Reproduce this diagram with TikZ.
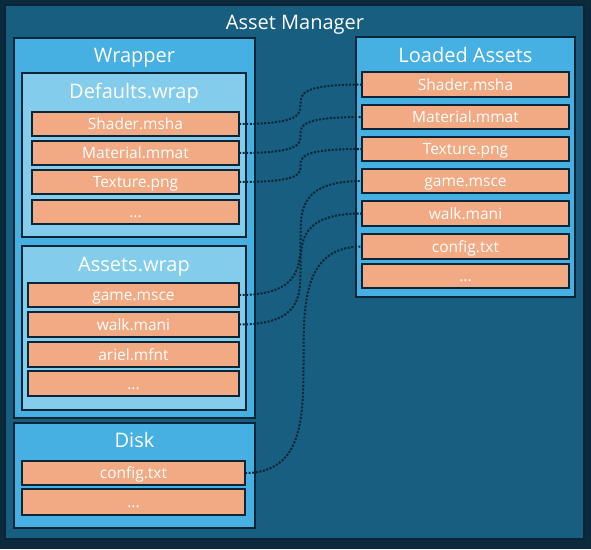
\documentclass[tikz,border=0pt]{standalone}
\usepackage{fontspec}
\setmainfont{Open Sans}
\definecolor{bgdark}{HTML}{0B2A3E}
\definecolor{amfill}{HTML}{185E80}
\definecolor{edge}{HTML}{0A2535}
\definecolor{midblue}{HTML}{45B0E1}
\definecolor{lightblue}{HTML}{84CCEB}
\definecolor{peach}{HTML}{F1AA84}
\tikzset{
  boxbase/.style={draw=edge, line width=2pt, inner sep=0pt, outer sep=0pt, anchor=north west},
  amstyle/.style={boxbase, fill=amfill},
  outerbox/.style={boxbase, fill=midblue},
  innerbox/.style={boxbase, fill=lightblue},
  itembox/.style={boxbase, fill=peach, text=white, font=\fontsize{15.5}{17}\selectfont,
    text height=11.1pt, text depth=0pt},
  titletext/.style={text=white, font=\fontsize{20}{23}\selectfont, inner sep=0pt,
    text height=14.3pt, text depth=0pt},
  conn/.style={draw=edge, line width=2pt, dash pattern=on 2pt off 1.6pt},
}
\newcommand\bx[7]{%
  \pgfmathsetmacro\bxw{#4-#2}\pgfmathsetmacro\bxh{#5-#3}%
  \node[#6, minimum width=\bxw pt, minimum height=\bxh pt] (#1) at (#2,#3) {#7};}
\begin{document}
\begin{tikzpicture}[x=1pt,y=-1pt]
\fill[bgdark] (0,0) rectangle (591,549);
\useasboundingbox (0,0) rectangle (591,549);
% Asset Manager
\bx{am}{5}{5}{584}{539}{amstyle}{}
\node[titletext] (amt) at (295,22) {Asset Manager};
% Wrapper
\bx{wr}{14}{38}{255}{418}{outerbox}{}
\node[titletext] (wrt) at (134.5,55) {Wrapper};
% Defaults.wrap
\bx{dw}{22}{73}{246}{237}{innerbox}{}
\node[titletext] (dwt) at (134,91) {Defaults.wrap};
\bx{ds}{32}{112}{239}{136}{itembox}{Shader.msha}
\bx{dm}{32}{141}{239}{165}{itembox}{Material.mmat}
\bx{dt}{32}{170}{239}{194}{itembox}{Texture.png}
\bx{dd}{32}{200}{239}{224}{itembox}{...}
% Assets.wrap
\bx{aw}{22}{246}{246}{410}{innerbox}{}
\node[titletext] (awt) at (134,264) {Assets.wrap};
\bx{ag}{28}{283}{239}{307}{itembox}{game.msce}
\bx{awk}{28}{312}{239}{337}{itembox}{walk.mani}
\bx{aa}{28}{342}{239}{367}{itembox}{ariel.mfnt}
\bx{ad}{28}{371}{239}{396}{itembox}{...}
% Disk
\bx{dk}{14}{423}{255}{528}{outerbox}{}
\node[titletext] (dkt) at (134.5,440.5) {Disk};
\bx{kc}{22}{461}{245}{485}{itembox}{config.txt}
\bx{kd}{22}{489}{245}{515}{itembox}{...}
% Loaded Assets
\bx{la}{356}{37}{575}{297}{outerbox}{}
\node[titletext] (lat) at (465.5,55) {Loaded Assets};
\bx{ls}{362}{72}{569}{97}{itembox}{Shader.msha}
\bx{lm}{362}{105}{569}{129}{itembox}{Material.mmat}
\bx{lt}{362}{137}{569}{161}{itembox}{Texture.png}
\bx{lg}{362}{169}{569}{193}{itembox}{game.msce}
\bx{lw}{362}{201}{569}{226}{itembox}{walk.mani}
\bx{lc}{362}{234}{569}{259}{itembox}{config.txt}
\bx{ld}{362}{264}{569}{288}{itembox}{...}
% connectors
\foreach \a/\b in {ds/ls, dm/lm, dt/lt, ag/lg, awk/lw, kc/lc}{
  \draw[conn] (\a.east) .. controls (\b.west |- \a.east) and (\a.east |- \b.west) .. (\b.west);
}
\end{tikzpicture}
\end{document}
